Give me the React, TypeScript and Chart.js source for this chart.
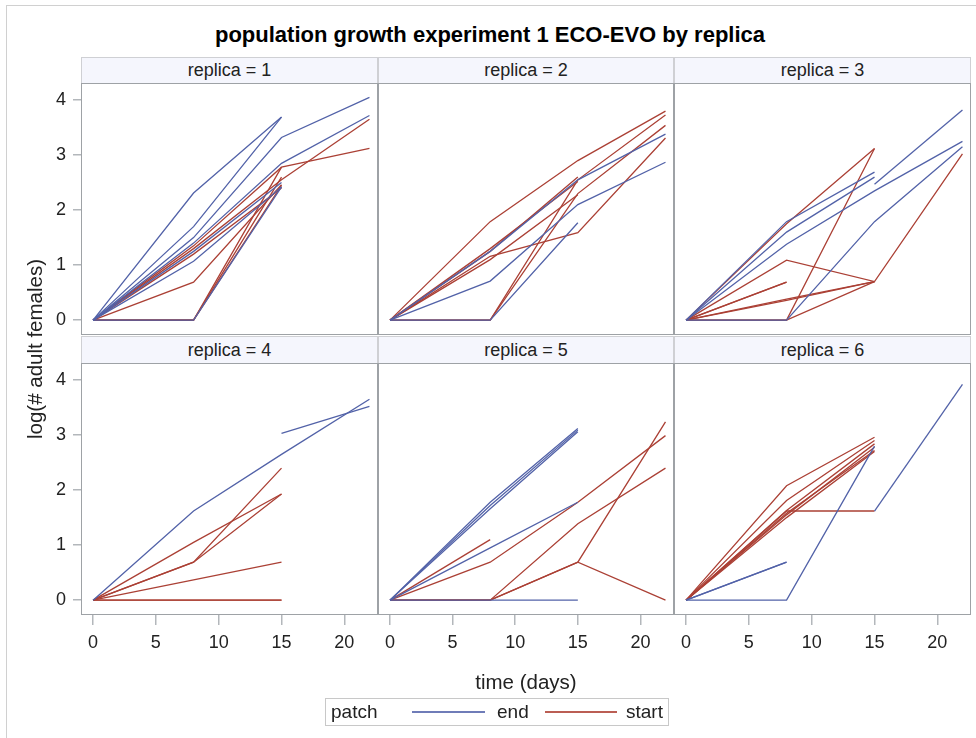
import React, { useEffect, useRef } from 'react';
import { Chart, registerables } from 'chart.js';

Chart.register(...registerables);

// ---------- data ----------
const DAYS = [0, 8, 15, 22];
const X_TICKS = [0, 5, 10, 15, 20];
const Y_TICKS = [0, 1, 2, 3, 4];
const PANEL_LABELS = ['replica = 1', 'replica = 2', 'replica = 3', 'replica = 4', 'replica = 5', 'replica = 6'];
const TITLE = 'population growth experiment 1 ECO-EVO by replica';
const X_TITLE = 'time (days)';
const Y_TITLE = 'log(# adult females)';
const LEGEND_TITLE = 'patch';
const GROUPS = ['end', 'start'];

type S = (number | null)[];

const R1_END: S[] = [
  [0, 2.31, 3.69, null],
  [0, 1.7, 3.69, null],
  [0, 1.5, 3.32, 4.05],
  [0, 1.4, 2.85, 3.72],
  [0, 1.07, 2.42, null],
  [0, 1.25, 2.5, null],
  [0, 0, 2.42, null],
];
const R1_START: S[] = [
  [0, 0.69, 2.46, null],
  [0, 1.3, 2.55, 3.65],
  [0, 1.35, 2.78, 3.12],
  [0, 0, 2.78, null],
  [0, 0, 2.6, null],
  [0, 0, 2.45, null],
  [0, 1.2, 2.4, null],
];
const R2_END: S[] = [
  [0, 0.71, 2.1, 2.87],
  [0, 1.25, 2.55, 3.38],
  [0, 0, 1.77, null],
];
const R2_START: S[] = [
  [0, 1.79, 2.9, 3.8],
  [0, 0, 2.55, 3.73],
  [0, 1.16, 1.59, 3.31],
  [0, 0, 2.3, 3.54],
  [0, 1.3, 2.52, null],
  [0, 1.1, 2.28, null],
  [0, 1.25, 2.6, null],
];
const R3_END: S[] = [
  [0, 1.79, 2.69, null],
  [0, 1.6, 2.6, null],
  [0, 1.38, 2.35, 3.25],
  [null, null, 2.47, 3.82],
  [0, 0, 1.79, 3.15],
];
const R3_START: S[] = [
  [0, 1.09, 0.7, 3.02],
  [0, 1.75, 3.12, null],
  [0, 0, 3.12, null],
  [0, 0.69, null, null],
  [0, 0.69, null, null],
  [0, 0.38, 0.7, null],
  [0, 0.36, 0.7, null],
  [0, 0, 0.7, null],
];
const R4_END: S[] = [
  [0, 1.62, 2.65, 3.65],
  [null, null, 3.03, 3.52],
];
const R4_START: S[] = [
  [0, 0.69, 1.93, null],
  [0, 0.69, 2.4, null],
  [0, 1.05, 1.93, null],
  [0, 0.37, 0.69, null],
  [0, 0, 0, null],
  [0, 0, 0, null],
];
const R5_END: S[] = [
  [0, 1.78, 3.12, null],
  [0, 1.72, 3.09, null],
  [0, 1.66, 3.06, null],
  [0, 0.95, 1.78, null],
  [0, 0, 0, null],
];
const R5_START: S[] = [
  [0, 1.1, null, null],
  [0, 0.69, 1.78, 2.99],
  [0, 0, 1.39, 2.4],
  [0, 0, 0.69, 3.24],
  [0, 0, 0.69, 0],
];
const R6_END: S[] = [
  [0, 0, 2.8, null],
  [null, null, 1.62, 3.92],
  [0, 0.69, null, null],
  [0, 0.69, null, null],
];
const R6_START: S[] = [
  [0, 2.08, 2.96, null],
  [0, 1.81, 2.9, null],
  [0, 1.63, 2.84, null],
  [0, 1.55, 2.78, null],
  [0, 1.58, 2.72, null],
  [0, 1.5, 2.7, null],
  [0, 1.62, 1.62, null],
];

const END_SERIES = [R1_END, R2_END, R3_END, R4_END, R5_END, R6_END];
const START_SERIES = [R1_START, R2_START, R3_START, R4_START, R5_START, R6_START];

// ---------- layout / style ----------
const X_MIN = -0.96;
const X_MAX = 22.68;
const Y_MIN = -0.27;
const Y_MAX = 4.31;
const COL_LEFT = [81, 378, 674];
const COL_WIDTH = [297, 296, 297];
const ROW_TOP = [83, 363];
const HEADER_TOP = [57, 336];
const PLOT_H = 252;
const Y_AXIS_W = 40;
const X_AXIS_H = 45;
const M = 24;
const BLUE = '#5262a8';
const RED = '#ab4035';
const LEG_BLUE = '#6f7cb8';
const LEG_RED = '#bb5e54';
const FONT = '"Liberation Sans", Arial, sans-serif';
const TEXT = '#222';
const TICK_COLOR = '#b3b7bb';

function Panel({ idx }: { idx: number }) {
  const ref = useRef<HTMLCanvasElement>(null);
  const r = Math.floor(idx / 3);
  const c = idx % 3;
  const showY = c === 0;
  const showX = r === 1;
  const axW = showY ? Y_AXIS_W : 0;
  const axH = showX ? X_AXIS_H : 0;
  const left = COL_LEFT[c] - axW - M;
  const top = ROW_TOP[r] - M;
  const w = COL_WIDTH[c] + axW + 2 * M;
  const h = PLOT_H + axH + 2 * M;

  useEffect(() => {
    const mk = (s: S, color: string) => ({
      data: s.map((v, i) => ({ x: DAYS[i], y: v })),
      borderColor: color,
      borderWidth: 1.3,
      pointRadius: 0,
      fill: false,
      tension: 0,
      spanGaps: false,
    });
    const datasets = [
      ...END_SERIES[idx].map((s) => mk(s, BLUE)),
      ...START_SERIES[idx].map((s) => mk(s, RED)),
    ];
    const tickFont = { family: FONT, size: 18 };
    const chart = new Chart(ref.current as HTMLCanvasElement, {
      type: 'line',
      data: { datasets } as any,
      options: {
        animation: false,
        responsive: false,
        devicePixelRatio: 1,
        layout: { padding: M },
        plugins: {
          legend: { display: false },
          tooltip: { enabled: false },
          title: { display: false },
        },
        scales: {
          x: {
            type: 'linear',
            min: X_MIN,
            max: X_MAX,
            display: showX,
            afterBuildTicks: (s: any) => {
              s.ticks = X_TICKS.map((v) => ({ value: v }));
            },
            afterFit: (s: any) => {
              if (showX) s.height = X_AXIS_H;
            },
            grid: { drawOnChartArea: false, drawTicks: true, tickLength: 10, color: TICK_COLOR, lineWidth: 1.5 },
            border: { display: false },
            ticks: { font: tickFont, color: TEXT, padding: 7, maxRotation: 0, autoSkip: false },
          },
          y: {
            type: 'linear',
            min: Y_MIN,
            max: Y_MAX,
            display: showY,
            afterBuildTicks: (s: any) => {
              s.ticks = Y_TICKS.map((v) => ({ value: v }));
            },
            afterFit: (s: any) => {
              if (showY) s.width = Y_AXIS_W;
            },
            grid: { drawOnChartArea: false, drawTicks: true, tickLength: 8, color: TICK_COLOR, lineWidth: 1.5 },
            border: { display: false },
            ticks: { font: tickFont, color: TEXT, padding: 7, autoSkip: false },
          },
        },
      } as any,
    });
    return () => chart.destroy();
  }, [idx]);

  return (
    <canvas
      ref={ref}
      width={w}
      height={h}
      style={{ position: 'absolute', left, top, width: w, height: h }}
    />
  );
}

export default function App() {
  const abs = (s: React.CSSProperties): React.CSSProperties => ({ position: 'absolute', ...s });
  return (
    <div style={abs({ left: 0, top: 0, width: 976, height: 738, background: '#fff', overflow: 'hidden', fontFamily: FONT, color: TEXT })}>
      <div style={abs({ left: 6, top: 5, width: 980, height: 760, border: '1px solid #d0d0d0', boxSizing: 'border-box' })} />
      <div style={abs({ left: 0, top: 23, width: 980, textAlign: 'center', fontWeight: 'bold', fontSize: 22, color: '#000', lineHeight: '24px' })}>
        {TITLE}
      </div>
      {PANEL_LABELS.map((lab, i) => {
        const r = Math.floor(i / 3);
        const c = i % 3;
        return (
          <div
            key={'h' + i}
            style={abs({
              left: COL_LEFT[c],
              top: HEADER_TOP[r],
              width: COL_WIDTH[c],
              height: ROW_TOP[r] - HEADER_TOP[r],
              boxSizing: 'border-box',
              background: '#f5f6fd',
              border: '1px solid #cfd0d4',
              borderBottom: 'none',
              textAlign: 'center',
              fontSize: 18,
              lineHeight: ROW_TOP[r] - HEADER_TOP[r] - 1 + 'px',
            })}
          >
            {lab}
          </div>
        );
      })}
      {PANEL_LABELS.map((_, i) => (
        <Panel key={'p' + i} idx={i} />
      ))}
      {PANEL_LABELS.map((_, i) => {
        const r = Math.floor(i / 3);
        const c = i % 3;
        return (
          <div
            key={'f' + i}
            style={abs({
              left: COL_LEFT[c],
              top: ROW_TOP[r],
              width: COL_WIDTH[c],
              height: PLOT_H,
              boxSizing: 'border-box',
              border: '1px solid #9ea2a6',
              pointerEvents: 'none',
            })}
          />
        );
      })}
      <div style={abs({ left: 426, top: 670, width: 200, textAlign: 'center', fontSize: 20.5, lineHeight: '24px' })}>{X_TITLE}</div>
      <div
        style={abs({
          left: 35 - 120,
          top: 349 - 12,
          width: 240,
          height: 24,
          lineHeight: '24px',
          textAlign: 'center',
          fontSize: 20.5,
          transform: 'rotate(-90deg)',
        })}
      >
        {Y_TITLE}
      </div>
      <div style={abs({ left: 325, top: 698, width: 344, height: 28, boxSizing: 'border-box', border: '1px solid #c8c8c8', fontSize: 19 })}>
        <div style={abs({ left: 5, top: 2, lineHeight: '22px' })}>{LEGEND_TITLE}</div>
        <div style={abs({ left: 86, top: 12, width: 73, height: 2, background: LEG_BLUE })} />
        <div style={abs({ left: 171, top: 2, lineHeight: '22px' })}>{GROUPS[0]}</div>
        <div style={abs({ left: 219, top: 12, width: 72, height: 2, background: LEG_RED })} />
        <div style={abs({ left: 300, top: 2, lineHeight: '22px' })}>{GROUPS[1]}</div>
      </div>
    </div>
  );
}
